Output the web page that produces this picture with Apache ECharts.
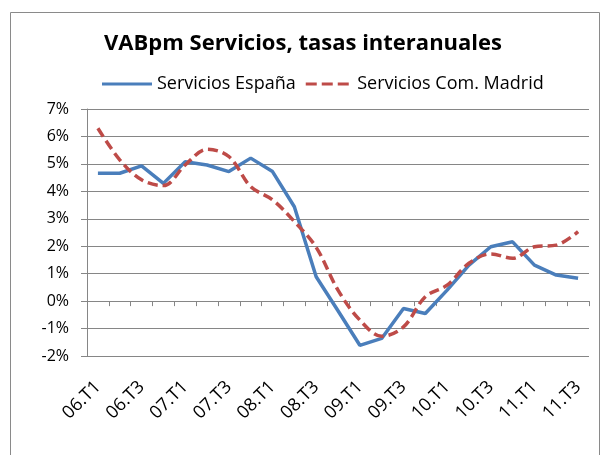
<!DOCTYPE html>
<html>
<head>
<meta charset="utf-8">
<script src="https://cdn.jsdelivr.net/npm/echarts@6/dist/echarts.min.js"></script>
<style>
  html, body { margin: 0; padding: 0; background: #fff; }
  #main { width: 606px; height: 455px; }
</style>
</head>
<body>
<div id="main"></div>
<script>
// trimestres 2006 T1 - 2011 T3
const quarters = ['06.T1','06.T2','06.T3','06.T4','07.T1','07.T2','07.T3','07.T4',
  '08.T1','08.T2','08.T3','08.T4','09.T1','09.T2','09.T3','09.T4',
  '10.T1','10.T2','10.T3','10.T4','11.T1','11.T2','11.T3'];

// tasas interanuales (%)
const espana = [4.66, 4.66, 4.93, 4.29, 5.08, 4.96, 4.72, 5.21, 4.72, 3.44, 0.89, -0.35,
  -1.61, -1.36, -0.27, -0.45, 0.40, 1.31, 1.98, 2.16, 1.31, 0.95, 0.83];
const madrid = [6.30, 5.15, 4.42, 4.21, 4.96, 5.53, 5.27, 4.17, 3.69, 2.90, 1.96, 0.40,
  -0.69, -1.28, -0.94, 0.16, 0.58, 1.38, 1.72, 1.56, 1.98, 2.04, 2.53];

const fontFam = '"Open Sans", "Liberation Sans", sans-serif';

const chart = echarts.init(document.getElementById('main'));
chart.setOption({
  animation: false,
  backgroundColor: '#fff',
  graphic: [{
    type: 'rect',
    shape: { x: 10.5, y: 12.5, width: 589, height: 460 },
    style: { fill: 'none', stroke: '#8a8a8a', lineWidth: 1 },
    silent: true
  }],
  title: {
    text: 'VABpm Servicios, tasas interanuales',
    left: 'center',
    top: 28,
    textStyle: { fontFamily: fontFam, fontSize: 22, fontWeight: 'bold', color: '#000' }
  },
  legend: {
    top: 70,
    left: 97,
    itemWidth: 50,
    itemHeight: 3,
    itemGap: 10,
    textStyle: { fontFamily: fontFam, fontSize: 18, color: '#000' },
    data: [
      { name: 'Servicios España', icon: 'rect' },
      { name: 'Servicios Com. Madrid', icon: 'path://M0,0 L11,0 L11,3 L0,3 Z M16,0 L27,0 L27,3 L16,3 Z M32,0 L43,0 L43,3 L32,3 Z' }
    ]
  },
  grid: { left: 87, right: 17, top: 109, bottom: 99, containLabel: false, outerBoundsMode: 'none' },
  xAxis: {
    type: 'category',
    data: quarters,
    boundaryGap: true,
    // eje en 0%, etiquetas abajo (bajo -2%)
    axisLine: { onZero: true, lineStyle: { color: '#868686', width: 1 } },
    axisTick: { show: true, interval: 0, length: 5, lineStyle: { color: '#868686' } },
    axisLabel: {
      interval: 1,
      rotate: 45,
      margin: 28,
      fontFamily: fontFam,
      fontSize: 18,
      color: '#000'
    }
  },
  yAxis: {
    type: 'value',
    min: -2,
    max: 7,
    interval: 1,
    axisLine: { show: true, lineStyle: { color: '#868686' } },
    axisTick: { show: true, length: 6, lineStyle: { color: '#868686' } },
    splitLine: { show: true, lineStyle: { color: '#868686', width: 1 } },
    axisLabel: {
      formatter: '{value}%',
      margin: 18,
      fontFamily: fontFam,
      fontSize: 16,
      color: '#000'
    }
  },
  series: [{
    name: 'Servicios España',
    type: 'line',
    data: espana,
    symbol: 'none',
    color: '#4a7ebb',
    lineStyle: { color: '#4a7ebb', width: 3.5 }
  }, {
    name: 'Servicios Com. Madrid',
    type: 'line',
    data: madrid,
    symbol: 'none',
    smooth: 0.35,
    color: '#be4b48',
    lineStyle: { color: '#be4b48', width: 3.5, type: [10, 5] }
  }]
});
</script>
</body>
</html>
